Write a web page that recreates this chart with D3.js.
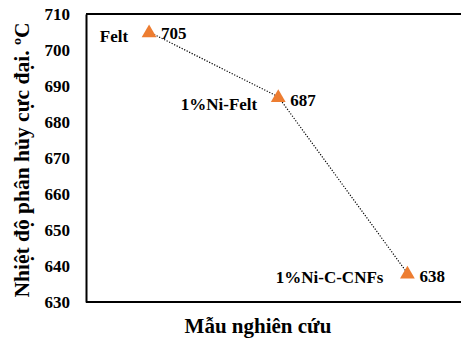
<!DOCTYPE html>
<html>
<head>
<meta charset="utf-8">
<script src="https://cdn.jsdelivr.net/npm/d3@7"></script>
<style>
  html, body { margin: 0; padding: 0; background: #fff; }
  svg { display: block; }
  text { font-family: "Liberation Serif", "Times New Roman", serif; font-weight: bold; fill: #000; }
</style>
</head>
<body>
<svg id="chart" width="461" height="338"></svg>
<script>
// Decomposition temperature of each sample
const samples = ["Felt", "1%Ni-Felt", "1%Ni-C-CNFs"];
const peakTemps = [705, 687, 638];
const yTicks = [630, 640, 650, 660, 670, 680, 690, 700, 710];

const FONT = "Liberation Serif, Times New Roman, serif";
const W = 461, H = 338;
const margin = { left: 86, top: 14, right: -11, bottom: 36 };
const svg = d3.select("#chart");

const x = d3.scaleBand()
  .domain(samples)
  .range([margin.left - 1.5, W - margin.right]);
const y = d3.scaleLinear()
  .domain([630, 710])
  .range([H - margin.bottom, margin.top]);

const cx = d => x(d) + x.bandwidth() / 2;

// Frame: top and bottom rules, left axis
svg.append("line")
  .attr("x1", margin.left).attr("x2", W)
  .attr("y1", y(710)).attr("y2", y(710))
  .attr("stroke", "#000").attr("stroke-width", 2);
svg.append("line")
  .attr("x1", margin.left).attr("x2", W)
  .attr("y1", y(630)).attr("y2", y(630))
  .attr("stroke", "#000").attr("stroke-width", 2);

const yAxis = d3.axisLeft(y).tickValues(yTicks).tickSize(0).tickPadding(16);
const gy = svg.append("g")
  .attr("transform", `translate(${margin.left},0)`)
  .call(yAxis)
  .attr("font-family", FONT)
  .attr("font-size", 17)
  .attr("font-weight", "bold");
gy.select(".domain").attr("stroke", "#000").attr("stroke-width", 2);
gy.selectAll("text").attr("fill", "#000").attr("dy", "0.35em");

// Dotted connecting line
const pts = samples.map((s, i) => ({ name: s, value: peakTemps[i] }));
svg.append("path")
  .datum(pts)
  .attr("fill", "none")
  .attr("stroke", "#000")
  .attr("stroke-width", 1.2)
  .attr("stroke-dasharray", "1.2,1.6")
  .attr("d", d3.line().x(d => cx(d.name)).y(d => y(d.value)));

// Triangle markers
svg.selectAll("path.marker")
  .data(pts)
  .join("path")
  .attr("class", "marker")
  .attr("transform", d => `translate(${cx(d.name)},${y(d.value) + 1})`)
  .attr("d", d3.symbol(d3.symbolTriangle, 95)())
  .attr("fill", "#ED7D31");

// Sample names (left of markers) and values (right of markers)
const nameOffsets = [[-21, 10], [-21, 13], [-24, 10]];
const valueOffsets = [[12, 7], [12, 9], [12, 9]];
svg.selectAll("text.name")
  .data(pts)
  .join("text")
  .attr("class", "name")
  .attr("x", (d, i) => cx(d.name) + nameOffsets[i][0])
  .attr("y", (d, i) => y(d.value) + nameOffsets[i][1])
  .attr("text-anchor", "end")
  .style("font-size", "17px")
  .text(d => d.name);
svg.selectAll("text.val")
  .data(pts)
  .join("text")
  .attr("class", "val")
  .attr("x", (d, i) => cx(d.name) + valueOffsets[i][0])
  .attr("y", (d, i) => y(d.value) + valueOffsets[i][1])
  .attr("text-anchor", "start")
  .style("font-size", "17px")
  .text(d => d.value);

// Axis titles
svg.append("text")
  .attr("x", 258).attr("y", 333)
  .attr("text-anchor", "middle")
  .style("font-size", "21px")
  .text("Mẫu nghiên cứu");
svg.append("text")
  .attr("transform", "translate(29,160) rotate(-90)")
  .attr("text-anchor", "middle")
  .style("font-size", "21.5px")
  .text("Nhiệt độ phân hủy cực đại. ºC");
</script>
</body>
</html>
